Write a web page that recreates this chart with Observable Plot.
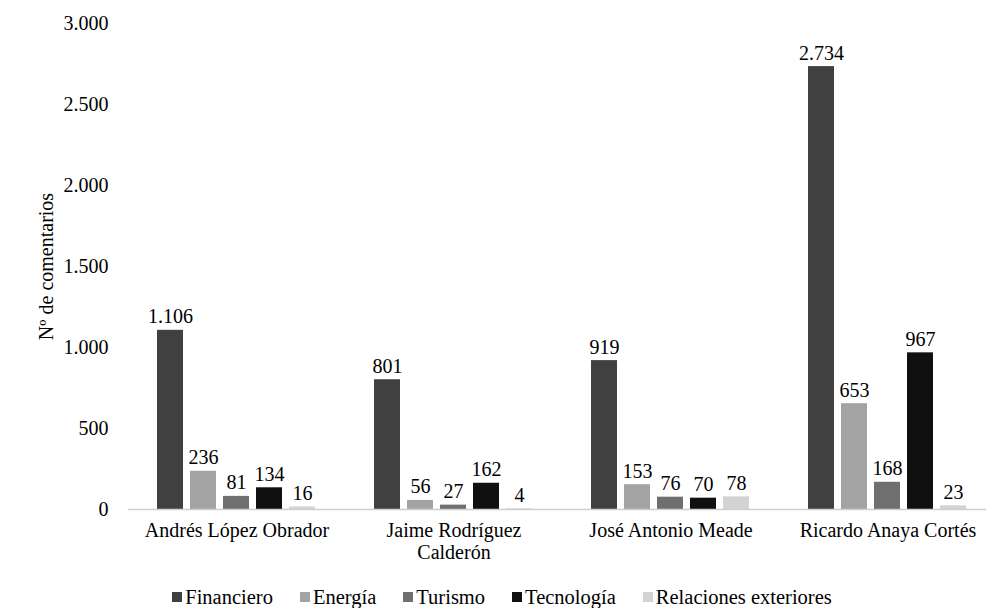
<!DOCTYPE html>
<html>
<head>
<meta charset="utf-8">
<script src="https://cdn.jsdelivr.net/npm/d3@7"></script>
<script src="https://cdn.jsdelivr.net/npm/@observablehq/plot@0.6"></script>
<style>
  html, body { margin: 0; padding: 0; background: #fff; }
  body { width: 986px; height: 608px; overflow: hidden; }
  svg, svg text, #legend { font-family: 'Liberation Serif', 'Times New Roman', serif !important; }
  #legend { display: flex; justify-content: center; gap: 27px; font-size: 20.5px; line-height: 20px; color: #000; padding-top: 7px; padding-left: 18px; }
  #legend span.item { display: inline-flex; align-items: center; }
  #legend span.sw { display: inline-block; width: 10px; height: 10px; margin-right: 3px; }
</style>
</head>
<body>
<div id="chart"></div>
<div id="legend"></div>
<script>
// Candidates (x categories)
const candidates = ["Andrés López Obrador", "Jaime Rodríguez\nCalderón", "José Antonio Meade", "Ricardo Anaya Cortés"];
// Topic series
const series = ["Financiero", "Energía", "Turismo", "Tecnología", "Relaciones exteriores"];
const colors = ["#404040", "#a3a3a3", "#6f6f6f", "#101010", "#d3d3d3"];
// Number of comments per topic, one value per candidate
const financiero = [1106, 801, 919, 2734];
const energia = [236, 56, 153, 653];
const turismo = [81, 27, 76, 168];
const tecnologia = [134, 162, 70, 967];
const relaciones = [16, 4, 78, 23];
const yTicks = [0, 500, 1000, 1500, 2000, 2500, 3000];

const valuesBySeries = [financiero, energia, turismo, tecnologia, relaciones];
const rows = [];
series.forEach((s, i) => candidates.forEach((c, j) => rows.push({candidate: c, topic: s, value: valuesBySeries[i][j]})));

const fmt = d3.formatLocale({decimal: ",", thousands: ".", grouping: [3], currency: ["", "€"]}).format(",d");

const chart = Plot.plot({
  width: 986,
  height: 580,
  marginTop: 23,
  marginBottom: 71,
  marginLeft: 127,
  marginRight: -10,
  style: {fontFamily: "'Liberation Serif', 'Times New Roman', serif", fontSize: "20px", color: "#000", background: "#fff"},
  fx: {domain: candidates, padding: 0, label: null},
  x: {domain: series, paddingInner: 0.2, paddingOuter: 0.85, axis: null},
  y: {domain: [0, 3000], label: null},
  color: {domain: series, range: colors},
  marks: [
    Plot.axisY({ticks: yTicks, tickSize: 0, tickPadding: 20, tickFormat: fmt, label: "Nº de comentarios", labelAnchor: "center", labelArrow: "none", labelOffset: 90, fontSize: 20}),
    Plot.axisFx({anchor: "bottom", tickSize: 0, tickPadding: 12, label: null, lineHeight: 1.1, fontSize: 20}),
    Plot.barY(rows, {fx: "candidate", x: "topic", y: "value", fill: "topic"}),
    Plot.ruleY([0], {stroke: "#cfcfcf", strokeWidth: 1.5}),
    Plot.text(rows, {fx: "candidate", x: "topic", y: "value", text: d => fmt(d.value), lineAnchor: "bottom", dy: -7, fill: "#000", fontSize: 20})
  ]
});
document.getElementById("chart").appendChild(chart);

const legend = document.getElementById("legend");
series.forEach((s, i) => {
  const item = document.createElement("span");
  item.className = "item";
  const sw = document.createElement("span");
  sw.className = "sw";
  sw.style.background = colors[i];
  item.appendChild(sw);
  item.appendChild(document.createTextNode(s));
  legend.appendChild(item);
});
</script>
</body>
</html>
